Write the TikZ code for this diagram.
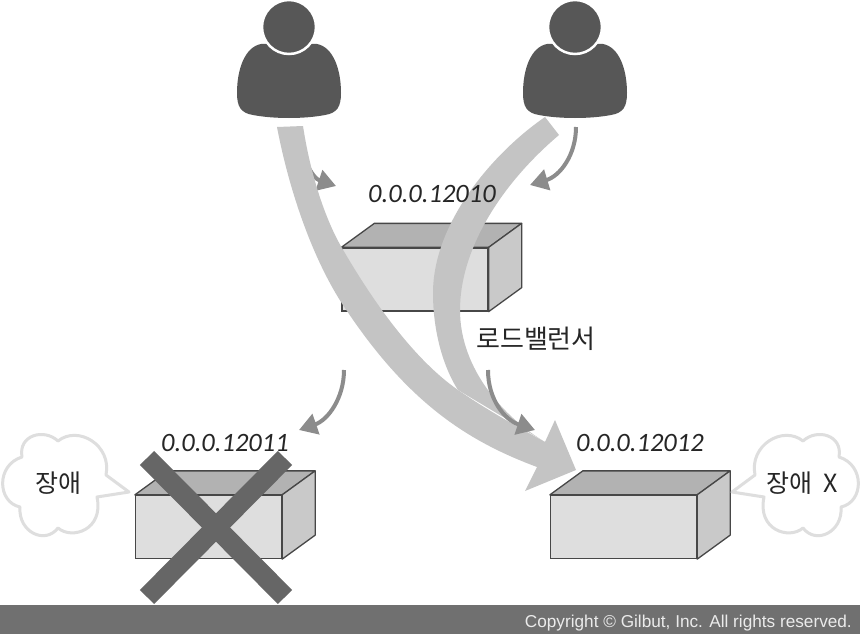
\documentclass[tikz,border=0pt]{standalone}
\usepackage{fontspec}
\setmainfont{Liberation Sans}
\newfontfamily\krfont{Noto Sans CJK KR}
\newfontfamily\handfont{Carlito}
\usepackage{tikz}
\usetikzlibrary{arrows.meta,positioning,calc}
\definecolor{flowgray}{HTML}{C4C4C4}
\definecolor{tipgray}{HTML}{8C8C8C}
\definecolor{usergray}{HTML}{575757}
\tikzset{
  userhead/.style={circle, fill=usergray, draw=white, line width=2.5pt, minimum size=54pt, inner sep=0pt},
  boxfront/.style={draw=black!72, line width=1.3pt, fill=black!13, minimum width=146pt, minimum height=63pt, inner sep=0pt},
  boxtop/.style={draw=black!72, line width=1.3pt, fill=black!30, line join=round},
  boxside/.style={draw=black!72, line width=1.3pt, fill=black!21, line join=round},
  flow/.style={fill=flowgray},
  req/.style={draw=tipgray, line width=4pt, -{Triangle[width=21pt,length=18pt]}},
  bubble/.style={draw=black!13, line width=3pt, fill=white, line join=round},
  addr/.style={font=\handfont\itshape\fontsize{26.5}{28}\selectfont, text=black!85, inner sep=0pt},
  krtxt/.style={font=\krfont\fontsize{25}{28}\selectfont, text=black!85, inner sep=0pt},
  xbar/.style={draw=black!60, line width=20pt}
}
\newcommand{\bubblepath}{(129,492) -- (106,475) .. controls (112,445) and (78,425) .. (58,441)
  .. controls (44,428) and (18,435) .. (22,457) .. controls (-4,465) and (-3,502) .. (20,507)
  .. controls (18,532) and (45,545) .. (58,528) .. controls (72,540) and (104,530) .. (97,497) -- cycle}
\begin{document}
\begin{tikzpicture}[x=1pt, y=-1pt]
\useasboundingbox (0,0) rectangle (860,634);
\fill[white] (0,0) rectangle (860,634);
\node[fill=black!56, minimum width=860pt, minimum height=29pt, inner sep=0pt] (bar) at (430,619.5) {};
\node[font=\fontsize{17.2}{20}\selectfont, text=black!8, anchor=east, inner sep=0pt] (copy) at (852,623) {Copyright © Gilbut, Inc. All rights reserved.};

\foreach \u/\x in {userl/289, userr/575} {
  \fill[usergray, shift={(\x,27)}] (-28,17) .. controls (-44,20) and (-52,42) .. (-52,66)
    .. controls (-52,80) and (-48,86) .. (-36,88) .. controls (-15,92) and (15,92) .. (36,88)
    .. controls (48,86) and (52,80) .. (52,66) .. controls (52,42) and (44,20) .. (28,17) -- cycle;
  \node[userhead] (\u) at (\x,27) {};
}

\foreach \b/\x/\y in {lb/415/279.5, srvl/208.5/527, srvr/623.5/527} {
  \node[boxfront] (\b) at (\x,\y) {};
  \draw[boxtop] (\b.north west) -- ++(33,-24) -- ($(\b.north east)+(33,-24)$) -- (\b.north east) -- cycle;
  \draw[boxside] (\b.north east) -- ++(33,-24) -- ($(\b.south east)+(33,-24)$) -- (\b.south east) -- cycle;
}

\coordinate (reqa) at (297,128);
\coordinate (reqatip) at (336,186);
\coordinate (reqb) at (576,127);
\coordinate (reqbtip) at (530,185);
\coordinate (reqc) at (344,370);
\coordinate (reqctip) at (299,430);
\coordinate (reqd) at (488,370);
\coordinate (reqdtip) at (535,430);
\draw[req] (reqa) .. controls (300,155) and (312,178) .. (reqatip);
\draw[req] (reqb) .. controls (576,155) and (560,176) .. (reqbtip);
\draw[req] (reqc) .. controls (344,398) and (328,420) .. (reqctip);

\coordinate (head) at (576,470);
\fill[flow] (303,126) .. controls (312,185) and (330,228) .. (342,248)
  .. controls (375,305) and (415,360) .. (458,390)
  .. controls (490,412) and (520,428) .. (545,442) -- (555,420) -- (head) -- (525,491) -- (537,467)
  .. controls (470,442) and (410,405) .. (347,311) .. controls (315,265) and (290,195) .. (277,127) -- cycle;
\fill[flow] (545,117) .. controls (490,155) and (433,225) .. (433,293)
  .. controls (433,335) and (445,370) .. (458,390) -- (545,442)
  .. controls (505,418) and (460,370) .. (460,310) .. controls (460,250) and (500,185) .. (559,135) -- cycle;
\draw[req] (reqd) .. controls (488,400) and (505,420) .. (reqdtip);

\node[addr] (addrlb) at (432,194) {0.0.0.12010};
\node[addr] (addrl) at (225,443) {0.0.0.12011};
\node[addr] (addrr) at (640,443) {0.0.0.12012};
\node[krtxt, font=\krfont\fontsize{26}{30}\selectfont] (lbname) at (536,339) {로드밸런서};

\coordinate (xa) at (147,458);
\coordinate (xb) at (285,597);
\coordinate (xc) at (285,458);
\coordinate (xd) at (147,597);
\draw[xbar] (xa) -- (xb);
\draw[xbar] (xc) -- (xd);

\draw[bubble] \bubblepath;
\begin{scope}[xshift=861pt, xscale=-1]
\draw[bubble] \bubblepath;
\end{scope}
\node[krtxt] (faill) at (58,483) {장애};
\node[krtxt] (failr) at (802,483) {장애\hspace{6pt} X};
\end{tikzpicture}
\end{document}
